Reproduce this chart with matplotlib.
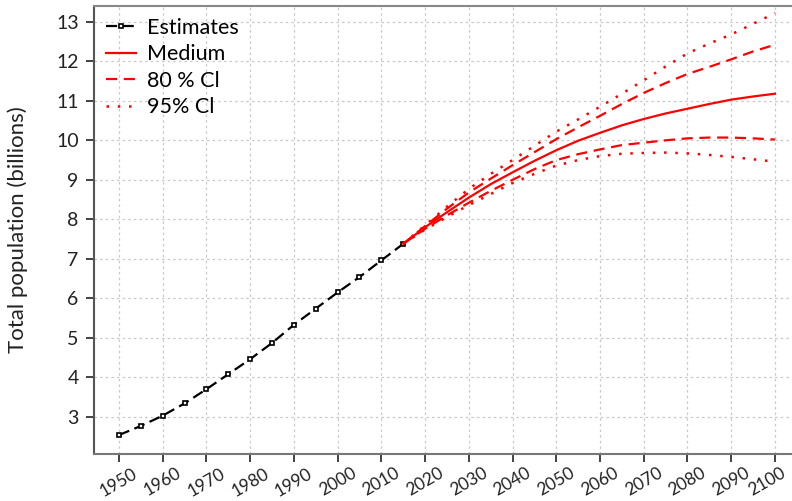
import matplotlib
matplotlib.use("Agg")
import matplotlib.pyplot as plt
from matplotlib.transforms import ScaledTranslation

plt.rcParams["font.family"] = ["Lato", "DejaVu Sans"]

# UN estimates 1950-2015 (billions)
est_years = [1950, 1955, 1960, 1965, 1970, 1975, 1980, 1985, 1990, 1995, 2000, 2005, 2010, 2015]
est_pop = [2.54, 2.77, 3.03, 3.34, 3.70, 4.08, 4.46, 4.87, 5.33, 5.74, 6.15, 6.54, 6.96, 7.38]

# projections 2015-2100
proj_years = [2015, 2020, 2025, 2030, 2035, 2040, 2045, 2050, 2055, 2060,
              2065, 2070, 2075, 2080, 2085, 2090, 2095, 2100]
medium = [7.38, 7.80, 8.18, 8.55, 8.89, 9.19, 9.48, 9.75, 9.99, 10.19,
          10.38, 10.54, 10.68, 10.8, 10.92, 11.03, 11.11, 11.18]
ci80_hi = [7.38, 7.83, 8.27, 8.68, 9.03, 9.37, 9.70, 10.03, 10.33, 10.62,
           10.92, 11.2, 11.45, 11.68, 11.86, 12.05, 12.25, 12.42]
ci80_lo = [7.38, 7.76, 8.10, 8.42, 8.72, 9.0, 9.27, 9.50, 9.65, 9.77,
           9.88, 9.94, 10.0, 10.05, 10.07, 10.07, 10.05, 10.02]
ci95_hi = [7.38, 7.85, 8.32, 8.77, 9.15, 9.50, 9.86, 10.22, 10.53, 10.85,
           11.18, 11.52, 11.87, 12.2, 12.45, 12.68, 12.95, 13.22]
ci95_lo = [7.38, 7.74, 8.06, 8.36, 8.64, 8.92, 9.15, 9.36, 9.50, 9.60,
           9.66, 9.68, 9.69, 9.67, 9.63, 9.58, 9.52, 9.46]

fig = plt.figure(figsize=(7.92, 5.01), dpi=100)
ax = fig.add_axes([0.1187, 0.0938, 0.8813, 0.8942])

red = "#ff0000"
ax.plot(est_years, est_pop, color="black", ls=(0, (5, 2.5)), lw=1.6,
        marker="s", ms=3.2, mfc="white", mec="black", mew=1.2, label="Estimates")
ax.plot(proj_years, medium, color=red, lw=1.6, label="Medium")
ax.plot(proj_years, ci80_hi, color=red, lw=1.6, ls=(0, (5, 3)), label="80 % Cl")
ax.plot(proj_years, ci80_lo, color=red, lw=1.6, ls=(0, (5, 3)))
ax.plot(proj_years, ci95_hi, color=red, lw=1.8, ls=(0, (1, 3.5)), label="95% Cl")
ax.plot(proj_years, ci95_lo, color=red, lw=1.8, ls=(0, (1, 3.5)))

ax.set_xlim(1944.3, 2103.9)
ax.set_ylim(2.06, 13.4)
ax.set_xticks(range(1950, 2101, 10))
ax.set_yticks(range(3, 14))
ax.tick_params(axis="both", colors="#222222", length=6, width=1.2, direction="out")
ax.tick_params(axis="y", labelsize=14, pad=5)
ax.tick_params(axis="x", labelsize=12.5, pad=2)
xlabels = ax.get_xticklabels()
for lab in xlabels:
    lab.set_rotation(30)
    lab.set_ha("center")
# keep the last year label inside the figure
xlabels[-1].set_transform(xlabels[-1].get_transform()
                          + ScaledTranslation(-6 / 72, 0, fig.dpi_scale_trans))

ax.grid(True, ls=(0, (2, 2.5)), color="#c8c8c8", lw=0.9)
ax.set_axisbelow(True)
ax.spines["right"].set_visible(False)
ax.spines["left"].set_color("#555555")
ax.spines["bottom"].set_color("#777777")
ax.spines["top"].set_color("#888888")
for s in ("left", "bottom", "top"):
    ax.spines[s].set_linewidth(1.5)

ax.set_ylabel("Total population (billions)", fontsize=16, color="#222222", labelpad=20)

ax.legend(loc="upper left", frameon=False, fontsize=15.5, handlelength=1.4,
          handletextpad=0.5, labelspacing=0.3, borderaxespad=0.15)

fig.savefig("out.png", dpi=100)
